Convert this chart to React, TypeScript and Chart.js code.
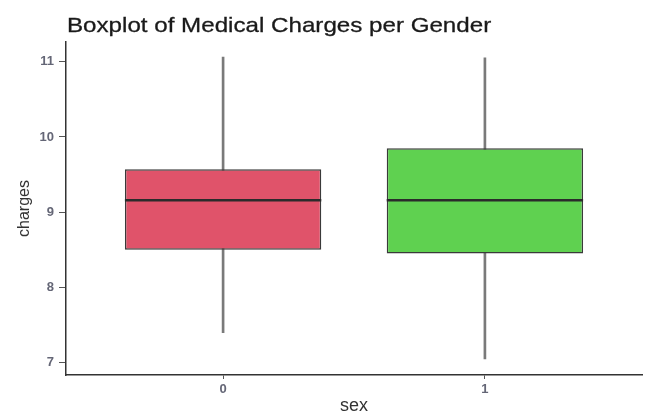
import React, { useEffect, useRef } from "react";
import { Chart, registerables } from "chart.js";

Chart.register(...registerables);

const chartTitle = "Boxplot of Medical Charges per Gender";
const xAxisTitle = "sex";
const yAxisTitle = "charges";
const categories = ["0", "1"];
const whiskerLow = [7.4, 7.05];
const q1 = [8.5, 8.45];
const median = [9.16, 9.16];
const q3 = [9.57, 9.85];
const whiskerHigh = [11.06, 11.05];
const yTicks = [7, 8, 9, 10, 11];
const boxColors = ["#E0536A", "#5FD150"];

const xMin = -0.6;
const xMax = categories.length - 1 + 0.6;
const yMin = 6.836;
const yMax = 11.262;

const FONT = "'Liberation Sans', Arial, sans-serif";

const boxExtrasPlugin = {
  id: "boxExtras",
  afterDatasetsDraw(chart: any) {
    const meta = chart.getDatasetMeta(1);
    const yScale = chart.scales.y;
    const ctx = chart.ctx;
    ctx.save();
    ctx.strokeStyle = "#2b2b2b";
    ctx.lineWidth = 2.5;
    meta.data.forEach((bar: any, i: number) => {
      const { x, width } = bar.getProps(["x", "width"], true);
      const py = yScale.getPixelForValue(median[i]);
      ctx.beginPath();
      ctx.moveTo(x - width / 2, py);
      ctx.lineTo(x + width / 2, py);
      ctx.stroke();
    });
    ctx.restore();
  },
  afterDraw(chart: any) {
    const ctx = chart.ctx;
    ctx.save();
    ctx.font = `21px ${FONT}`;
    ctx.fillStyle = "#1a1a1a";
    ctx.strokeStyle = "#1a1a1a";
    ctx.lineWidth = 0.3;
    ctx.textBaseline = "alphabetic";
    ctx.textAlign = "left";
    ctx.translate(chart.chartArea.left + 1, 32);
    ctx.scale(1.15, 1);
    ctx.fillText(chartTitle, 0, 0);
    ctx.strokeText(chartTitle, 0, 0);
    ctx.restore();
  },
};

export default function App() {
  const canvasRef = useRef<HTMLCanvasElement | null>(null);

  useEffect(() => {
    if (!canvasRef.current) return;
    Chart.defaults.font.family = FONT;
    const chart = new Chart(canvasRef.current, {
      type: "bar",
      data: {
        datasets: [
          {
            label: "whiskers",
            data: categories.map((_, i) => ({ x: i, y: [whiskerLow[i], whiskerHigh[i]] })) as any,
            backgroundColor: "#7a7a7a",
            borderWidth: 0,
            barThickness: 2,
            grouped: false,
            order: 1,
          },
          {
            label: "boxes",
            data: categories.map((_, i) => ({ x: i, y: [q1[i], q3[i]] })) as any,
            backgroundColor: boxColors,
            borderColor: "#3a3a3a",
            borderWidth: 1.5,
            borderSkipped: false,
            barPercentage: 0.75,
            categoryPercentage: 1,
            grouped: false,
            order: 0,
          },
        ],
      },
      options: {
        animation: false,
        responsive: true,
        maintainAspectRatio: false,
        layout: { padding: { top: 42, right: 20, left: 0, bottom: 0 } },
        plugins: {
          legend: { display: false },
          tooltip: { enabled: false },
          title: { display: false },
        },
        scales: {
          x: {
            type: "linear",
            min: xMin,
            max: xMax,
            offset: false,
            grid: {
              display: true,
              drawOnChartArea: false,
              drawTicks: true,
              tickLength: 4,
              tickColor: "#555",
              offset: false,
            },
            border: { display: true, color: "#333", width: 1.5 },
            afterBuildTicks: (scale: any) => {
              scale.ticks = categories.map((_, i) => ({ value: i }));
            },
            afterFit: (scale: any) => {
              scale.height = 40;
            },
            ticks: {
              color: "#646676",
              font: { size: 13, weight: "bold" },
              padding: 3,
              callback: (v: any) => categories[Math.round(Number(v))] ?? "",
            },
            title: {
              display: true,
              text: xAxisTitle,
              color: "#333",
              font: { size: 18, lineHeight: 1 },
              padding: { top: 0, bottom: 0 },
            },
          },
          y: {
            type: "linear",
            min: yMin,
            max: yMax,
            beginAtZero: false,
            grid: {
              display: true,
              drawOnChartArea: false,
              drawTicks: true,
              tickLength: 7,
              tickColor: "#555",
            },
            border: { display: true, color: "#333", width: 1.5 },
            afterBuildTicks: (scale: any) => {
              scale.ticks = yTicks.map((v) => ({ value: v }));
            },
            afterFit: (scale: any) => {
              scale.width = 66;
            },
            ticks: {
              color: "#646676",
              font: { size: 13, weight: "bold" },
              padding: 5,
              callback: (v: any) => String(v),
            },
            title: {
              display: true,
              text: yAxisTitle,
              color: "#333",
              font: { size: 16, lineHeight: 1.2 },
              padding: { top: 15, bottom: 0 },
            },
          },
        },
      },
      plugins: [boxExtrasPlugin],
    });
    return () => chart.destroy();
  }, []);

  return (
    <div style={{ position: "absolute", left: 0, top: 0, width: 662, height: 415, background: "#fff" }}>
      <canvas ref={canvasRef} />
    </div>
  );
}
